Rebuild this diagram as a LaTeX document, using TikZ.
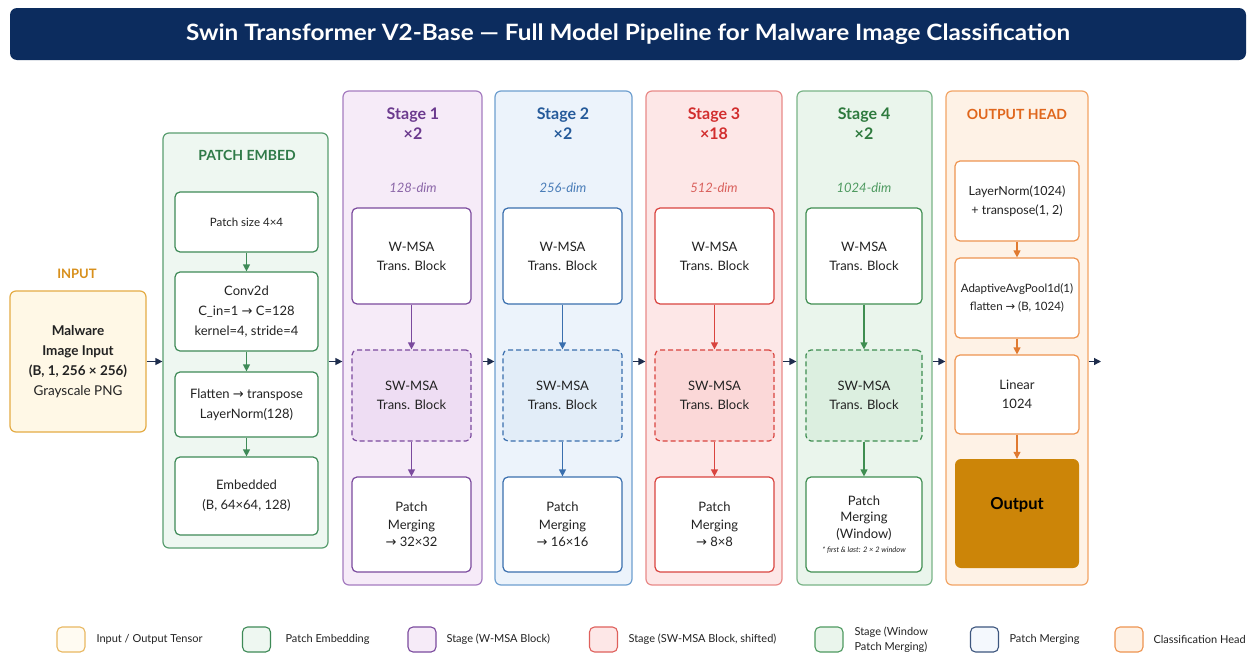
\documentclass[tikz,border=0pt]{standalone}
\usepackage{fontspec}
\setmainfont{Lato}
\newfontfamily\symf{DejaVu Sans}
\newfontfamily\titlef[FakeStretch=1.08]{Lato}
\newcommand\ra{{\symf\char"2192}}
\usetikzlibrary{arrows.meta,calc}
\definecolor{navy}{HTML}{0C2C5E}
\definecolor{arr}{HTML}{1E2D4D}
\definecolor{txt}{HTML}{222222}
\definecolor{inF}{HTML}{FFF8E6}\definecolor{inD}{HTML}{E4AC45}\definecolor{inT}{HTML}{D8901C}
\definecolor{peF}{HTML}{EEF7F1}\definecolor{peD}{HTML}{5A9E70}\definecolor{peI}{HTML}{3E8A57}\definecolor{peT}{HTML}{2F7A48}
\definecolor{aF}{HTML}{F6EBF8}\definecolor{aD}{HTML}{A57CC0}\definecolor{aI}{HTML}{7B4A9E}\definecolor{aS}{HTML}{EEDDF3}\definecolor{aT}{HTML}{6B3A8E}\definecolor{aM}{HTML}{8B66A8}
\definecolor{bF}{HTML}{ECF3FB}\definecolor{bD}{HTML}{6E9FCF}\definecolor{bI}{HTML}{3A6FAE}\definecolor{bS}{HTML}{E2EDF8}\definecolor{bT}{HTML}{255A9A}\definecolor{bM}{HTML}{4A7DB8}
\definecolor{cF}{HTML}{FDE7E7}\definecolor{cD}{HTML}{E98A88}\definecolor{cI}{HTML}{D9443F}\definecolor{cS}{HTML}{FBD8D8}\definecolor{cT}{HTML}{D22E2E}\definecolor{cM}{HTML}{D9605C}
\definecolor{dF}{HTML}{EAF5EC}\definecolor{dD}{HTML}{79B487}\definecolor{dI}{HTML}{3F8E51}\definecolor{dS}{HTML}{DCEFE0}\definecolor{dT}{HTML}{2E7A3E}\definecolor{dM}{HTML}{4E9A60}
\definecolor{oF}{HTML}{FEF2E6}\definecolor{oD}{HTML}{F2A566}\definecolor{oI}{HTML}{EE9450}\definecolor{oT}{HTML}{E0671D}\definecolor{oA}{HTML}{E07A30}\definecolor{oO}{HTML}{CC8508}
\tikzset{
  outerbox/.style={draw=#1, line width=1.2pt, rounded corners=6pt, inner sep=0pt},
  innerbox/.style={draw=#1, line width=1.2pt, rounded corners=5pt, fill=white, inner sep=0pt, align=center, text=txt, font=\fontsize{13}{19}\selectfont},
  flow/.style={draw=#1, line width=1.2pt, -{Triangle[length=7pt,width=7pt]}},
  mainarr/.style={draw=arr, line width=1.2pt, -{Triangle[length=7pt,width=7pt]}},
  sttitle/.style={text=#1, font=\fontsize{16}{19.5}\selectfont\bfseries, align=center},
  dimlbl/.style={text=#1, font=\fontsize{13}{15}\selectfont\itshape},
  legbox/.style={draw=#1, line width=1.1pt, rounded corners=5pt, minimum width=28pt, minimum height=25pt, inner sep=0pt},
  legtxt/.style={anchor=west, text=txt, font=\fontsize{11}{13}\selectfont, align=left},
}
\begin{document}
\begin{tikzpicture}[x=1pt,y=-1pt]
\useasboundingbox[fill=white] (0,0) rectangle (1256,656);
% title
\node[fill=navy, rounded corners=7pt, minimum width=1236pt, minimum height=52pt, inner sep=0pt, text=white, font=\titlef\fontsize{22.5}{26}\selectfont\bfseries] (title) at (628,34) {Swin Transformer V2-Base — Full Model Pipeline for Malware Image Classification};
% input
\node[text=inT, font=\fontsize{13}{15}\selectfont\bfseries] (inlbl) at (77,274) {INPUT};
\node[draw=inD, fill=inF, line width=1.2pt, rounded corners=6pt, minimum width=136pt, minimum height=141pt, inner sep=0pt, align=center, text=txt, font=\fontsize{13.5}{20}\selectfont] (inp) at (78,361.5) {\textbf{Malware}\\\textbf{Image Input}\\\textbf{(B, 1, 256 × 256)}\\Grayscale PNG};
% patch embed
\node[outerbox=peD, fill=peF, minimum width=165pt, minimum height=415pt] (pe) at (245.5,340.5) {};
\node[sttitle=peT, font=\fontsize{14}{16}\selectfont\bfseries] (petitle) at (247,155) {PATCH EMBED};
\node[innerbox=peI, minimum width=143pt, minimum height=60pt, font=\fontsize{11.5}{15}\selectfont] (pe1) at (246.5,222) {Patch size 4×4};
\node[innerbox=peI, minimum width=143pt, minimum height=79pt, font=\fontsize{13}{20}\selectfont] (pe2) at (246.5,311.5) {Conv2d\\C\_in=1 \ra{} C=128\\kernel=4, stride=4};
\node[innerbox=peI, minimum width=143pt, minimum height=65pt, font=\fontsize{13}{20}\selectfont] (pe3) at (246.5,404.5) {Flatten \ra{} transpose\\LayerNorm(128)};
\node[innerbox=peI, minimum width=143pt, minimum height=78pt, font=\fontsize{13}{20}\selectfont] (pe4) at (246.5,496) {Embedded\\(B, 64×64, 128)};
\draw[flow=peI] (pe1) -- (pe2);
\draw[flow=peI] (pe2) -- (pe3);
\draw[flow=peI] (pe3) -- (pe4);
% stage 1
\node[outerbox=aD, fill=aF, minimum width=139pt, minimum height=494pt] (s1) at (412.5,338) {};
\node[sttitle=aT] (s1t) at (413,123.5) {Stage 1\\×2};
\node[dimlbl=aM] (s1d) at (413,188) {128-dim};
\node[innerbox=aI, minimum width=119pt, minimum height=96pt] (s1w) at (411.5,256) {W-MSA\\Trans. Block};
\node[innerbox=aI, dashed, dash pattern=on 5pt off 3pt, fill=aS, minimum width=119pt, minimum height=91pt] (s1s) at (411.5,395.5) {SW-MSA\\Trans. Block};
\node[innerbox=aI, minimum width=119pt, minimum height=95pt, font=\fontsize{13}{17.5}\selectfont] (s1p) at (411.5,524.5) {Patch\\Merging\\\ra{} 32×32};
\draw[flow=aI] (s1w) -- (s1s);
\draw[flow=aI] (s1s) -- (s1p);
% stage 2
\node[outerbox=bD, fill=bF, minimum width=137pt, minimum height=494pt] (s2) at (563.5,338) {};
\node[sttitle=bT] (s2t) at (563,123.5) {Stage 2\\×2};
\node[dimlbl=bM] (s2d) at (563,188) {256-dim};
\node[innerbox=bI, minimum width=119pt, minimum height=96pt] (s2w) at (562.5,256) {W-MSA\\Trans. Block};
\node[innerbox=bI, dashed, dash pattern=on 5pt off 3pt, fill=bS, minimum width=119pt, minimum height=91pt] (s2s) at (562.5,395.5) {SW-MSA\\Trans. Block};
\node[innerbox=bI, minimum width=119pt, minimum height=95pt, font=\fontsize{13}{17.5}\selectfont] (s2p) at (562.5,524.5) {Patch\\Merging\\\ra{} 16×16};
\draw[flow=bI] (s2w) -- (s2s);
\draw[flow=bI] (s2s) -- (s2p);
% stage 3
\node[outerbox=cD, fill=cF, minimum width=136pt, minimum height=494pt] (s3) at (714,338) {};
\node[sttitle=cT] (s3t) at (714,123.5) {Stage 3\\×18};
\node[dimlbl=cM] (s3d) at (714,188) {512-dim};
\node[innerbox=cI, minimum width=119pt, minimum height=96pt] (s3w) at (714.5,256) {W-MSA\\Trans. Block};
\node[innerbox=cI, dashed, dash pattern=on 5pt off 3pt, fill=cS, minimum width=119pt, minimum height=91pt] (s3s) at (714.5,395.5) {SW-MSA\\Trans. Block};
\node[innerbox=cI, minimum width=119pt, minimum height=95pt, font=\fontsize{13}{17.5}\selectfont] (s3p) at (714.5,524.5) {Patch\\Merging\\\ra{} 8×8};
\draw[flow=cI] (s3w) -- (s3s);
\draw[flow=cI] (s3s) -- (s3p);
% stage 4
\node[outerbox=dD, fill=dF, minimum width=135pt, minimum height=494pt] (s4) at (864.5,338) {};
\node[sttitle=dT] (s4t) at (864,123.5) {Stage 4\\×2};
\node[dimlbl=dM] (s4d) at (864,188) {1024-dim};
\node[innerbox=dI, minimum width=116pt, minimum height=96pt] (s4w) at (864,256) {W-MSA\\Trans. Block};
\node[innerbox=dI, dashed, dash pattern=on 5pt off 3pt, fill=dS, minimum width=116pt, minimum height=91pt] (s4s) at (864,395.5) {SW-MSA\\Trans. Block};
\node[innerbox=dI, minimum width=116pt, minimum height=95pt, font=\fontsize{13}{16.5}\selectfont] (s4p) at (864,524.5) {Patch\\Merging\\(Window)\\[-2pt]{\fontsize{7.5}{9}\selectfont\itshape * first \& last: 2 × 2 window}};
\draw[flow=dI] (s4w) -- (s4s);
\draw[flow=dI] (s4s) -- (s4p);
% output head
\node[outerbox=oD, fill=oF, minimum width=142pt, minimum height=494pt] (oh) at (1017,338) {};
\node[sttitle=oT, font=\fontsize{14}{16}\selectfont\bfseries] (oht) at (1017,114) {OUTPUT HEAD};
\node[innerbox=oI, minimum width=124pt, minimum height=80pt, font=\fontsize{12.5}{19}\selectfont] (o1) at (1017,201) {LayerNorm(1024)\\+ transpose(1, 2)};
\node[innerbox=oI, minimum width=124pt, minimum height=80pt, font=\fontsize{11.5}{18}\selectfont] (o2) at (1017,298) {AdaptiveAvgPool1d(1)\\flatten \ra{} (B, 1024)};
\node[innerbox=oI, minimum width=124pt, minimum height=79pt] (o3) at (1017,394.5) {Linear\\1024};
\node[fill=oO, rounded corners=6pt, minimum width=124pt, minimum height=109pt, inner sep=0pt, text=black, font=\fontsize{16.5}{19}\selectfont\bfseries] (o4) at (1017,513.5) {\raisebox{4pt}[0pt][0pt]{Output}};
\draw[flow=oA] (o1) -- (o2);
\draw[flow=oA] (o2) -- (o3);
\draw[flow=oA] (o3) -- (o4);
% main flow arrows
\coordinate (fin) at (1101,361.5);
\draw[mainarr] (inp.east) -- (pe.west |- inp.east);
\draw[mainarr] (pe.east |- inp.east) -- (s1.west |- inp.east);
\draw[mainarr] (s1.east |- inp.east) -- (s2.west |- inp.east);
\draw[mainarr] (s2.east |- inp.east) -- (s3.west |- inp.east);
\draw[mainarr] (s3.east |- inp.east) -- (s4.west |- inp.east);
\draw[mainarr] (s4.east |- inp.east) -- (oh.west |- inp.east);
\draw[mainarr] (oh.east |- inp.east) -- (fin);
% legend
\node[legbox=inD!85, fill=inF!50] (l1) at (71,639.5) {};
\node[legtxt] (l1t) at (93,639.5) {Input / Output Tensor};
\node[legbox=peI, fill=peF] (l2) at (256.5,639.5) {};
\node[legtxt] (l2t) at (282,639.5) {Patch Embedding};
\node[legbox=aI, fill=aF] (l3) at (422,639.5) {};
\node[legtxt] (l3t) at (443,639.5) {Stage (W-MSA Block)};
\node[legbox=cI!85, fill=cF] (l4) at (603.5,639.5) {};
\node[legtxt] (l4t) at (625,639.5) {Stage (SW-MSA Block, shifted)};
\node[legbox=dM, fill=dF] (l5) at (829,639.5) {};
\node[legtxt, font=\fontsize{11}{15}\selectfont] (l5t) at (851,639.5) {Stage (Window\\Patch Merging)};
\node[legbox=navy!80, fill=bF!60] (l6) at (984.5,639.5) {};
\node[legtxt] (l6t) at (1006,639.5) {Patch Merging};
\node[legbox=oI, fill=oF] (l7) at (1129,639.5) {};
\node[legtxt] (l7t) at (1150,639.5) {Classification Head};
\end{tikzpicture}
\end{document}
